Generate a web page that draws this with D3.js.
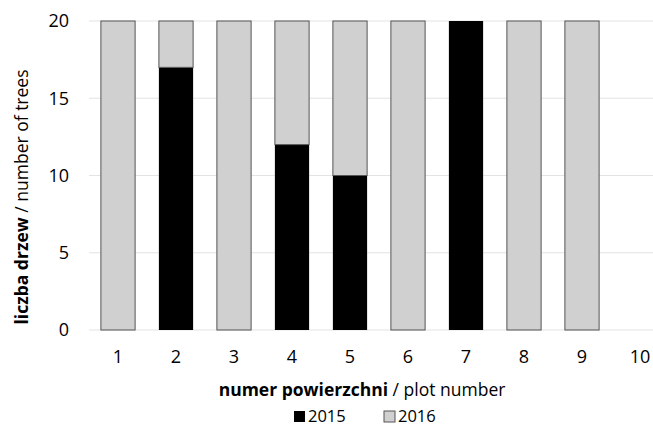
<!DOCTYPE html>
<html>
<head>
<meta charset="utf-8">
<script src="https://cdn.jsdelivr.net/npm/d3@7"></script>
<style>
  body { margin: 0; background: #fff; }
  text { font-family: "Open Sans", "Noto Sans", sans-serif; fill: #000; }
</style>
</head>
<body>
<div id="chart"></div>
<script>
// plot numbers and tree counts per year
var plots = ["1", "2", "3", "4", "5", "6", "7", "8", "9", "10"];
var trees2015 = [0, 17, 0, 12, 10, 0, 20, 0, 0, 0];
var trees2016 = [20, 3, 20, 8, 10, 20, 0, 20, 20, 0];
var yTicks = [0, 5, 10, 15, 20];
var years = ["2015", "2016"];

var svg_w = 653, svg_h = 426;
var colors = { "2015": "#000000", "2016": "#d0d0d0" };

var svg = d3.select("#chart")
      .append("svg")
      .attr("width", svg_w)
      .attr("height", svg_h);

var table = plots.map(function(p, i) {
  return { plot: p, "2015": trees2015[i], "2016": trees2016[i] };
});
var stacked = d3.stack().keys(years)(table);

var xScale = d3.scaleBand()
      .domain(plots)
      .range([89, 669])
      .paddingInner(0.41)
      .paddingOuter(0.205);

var yScale = d3.scaleLinear()
      .domain([0, 20])
      .range([330, 21]);

// gridlines
svg.append("g")
  .selectAll("line")
  .data(yTicks)
  .enter()
  .append("line")
  .attr("x1", 89)
  .attr("x2", svg_w)
  .attr("y1", function(d) { return yScale(d); })
  .attr("y2", function(d) { return yScale(d); })
  .style("stroke", "#e3e3e3")
  .attr("stroke-width", 1);

// bars
svg.append("g")
  .selectAll("g")
  .data(stacked)
  .enter()
  .append("g")
  .attr("fill", function(d) { return colors[d.key]; })
  .selectAll("rect")
  .data(function(d) { return d.map(function(v) { return { key: d.key, v: v }; }); })
  .enter()
  .filter(function(d) { return d.v[1] - d.v[0] > 0; })
  .append("rect")
  .attr("x", function(d) { return xScale(d.v.data.plot); })
  .attr("width", xScale.bandwidth())
  .attr("y", function(d) { return yScale(d.v[1]); })
  .attr("height", function(d) { return yScale(d.v[0]) - yScale(d.v[1]); })
  .style("stroke", function(d) { return d.key == "2016" ? "#555" : "none"; })
  .attr("stroke-width", 1);

// y axis
var yAxis = d3.axisLeft(yScale).tickValues(yTicks).tickSize(0).tickPadding(0);
svg.append("g")
  .attr("transform", "translate(69,0)")
  .call(yAxis)
  .call(function(g) { g.select(".domain").remove(); })
  .selectAll("text")
  .style("font-size", "18px")
  .style("font-family", "'Open Sans', sans-serif");

// x axis
var xAxis = d3.axisBottom(xScale).tickSize(0).tickPadding(0);
svg.append("g")
  .attr("transform", "translate(0,350)")
  .call(xAxis)
  .call(function(g) { g.select(".domain").remove(); })
  .selectAll("text")
  .style("font-size", "18px")
  .style("font-family", "'Open Sans', sans-serif");

// axis titles
var xt = svg.append("text")
  .attr("text-anchor", "middle")
  .attr("x", 362)
  .attr("y", 396)
  .style("font-size", "17.5px");
xt.append("tspan").style("font-weight", "bold").text("numer powierzchni");
xt.append("tspan").text(" / plot number");

var yt = svg.append("text")
  .attr("text-anchor", "middle")
  .attr("transform", "translate(28,197) rotate(-90)")
  .style("font-size", "17.5px");
yt.append("tspan").style("font-weight", "bold").text("liczba drzew");
yt.append("tspan").text(" / number of trees");

// legend
var legend = svg.append("g")
  .selectAll("g")
  .data(years)
  .enter()
  .append("g")
  .attr("transform", function(d, i) { return "translate(" + (294 + i * 90) + ",411)"; });

legend.append("rect")
  .attr("width", 11)
  .attr("height", 11)
  .attr("fill", function(d) { return colors[d]; })
  .style("stroke", function(d) { return d == "2016" ? "#555" : "none"; });

legend.append("text")
  .attr("x", 14)
  .attr("y", 11)
  .style("font-size", "16.5px")
  .text(function(d) { return d; });
</script>
</body>
</html>
